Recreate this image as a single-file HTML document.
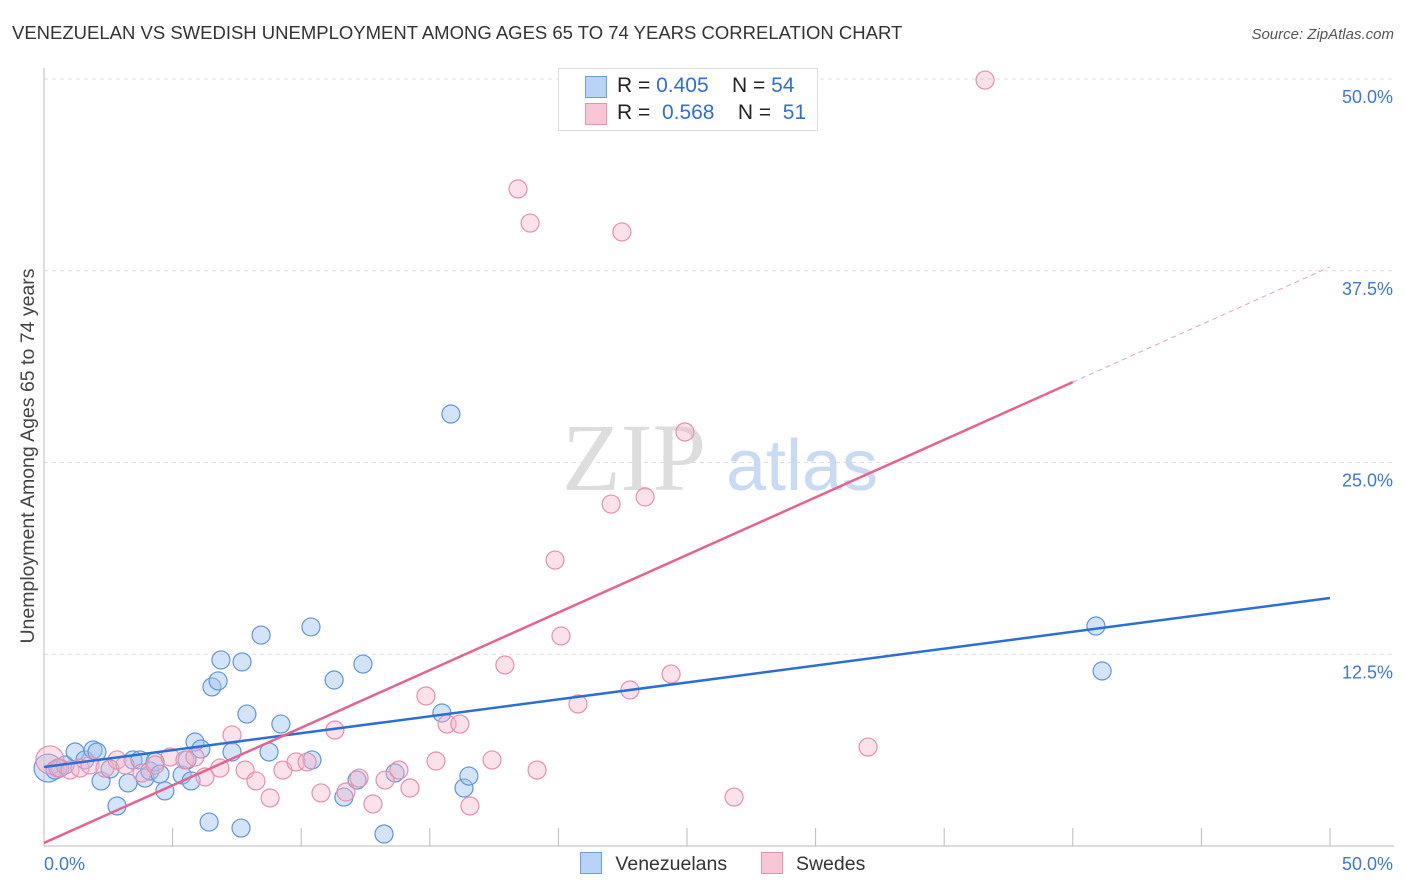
<!DOCTYPE html>
<html><head><meta charset="utf-8"><style>
body{margin:0;background:#fff;font-family:"Liberation Sans",sans-serif;}
#wrap{position:relative;width:1406px;height:892px;overflow:hidden;}
</style></head><body>
<div id="wrap">
<svg id="svg" width="1406" height="892" xmlns="http://www.w3.org/2000/svg">
<text x="12" y="39" font-size="18.5" fill="#333">VENEZUELAN VS SWEDISH UNEMPLOYMENT AMONG AGES 65 TO 74 YEARS CORRELATION CHART</text>
<text x="1394" y="39" font-size="15" fill="#555" font-style="italic" text-anchor="end">Source: ZipAtlas.com</text>
<text transform="translate(34,456) rotate(-90)" font-size="19.5" fill="#444" text-anchor="middle">Unemployment Among Ages 65 to 74 years</text>
<g>
<text x="634" y="490" font-size="96" fill="#ddd" font-family="Liberation Serif,serif" text-anchor="middle">ZIP</text>
<text x="802" y="490" font-size="72" fill="#c9daf3" text-anchor="middle">atlas</text>
</g>
<g id="grid"></g><g id="marks"></g><g id="lines"></g>
</svg>
<div style="position:absolute;left:558px;top:68px;width:258px;height:61px;border:1px solid #ddd;background:#fff;font-size:21px;color:#222;">
<div style="position:absolute;left:26px;top:7px;width:20px;height:20px;background:#b8d3f5;border:1px solid #6d9de0;"></div>
<div style="position:absolute;left:58px;top:5px;">R = <span style="color:#2f6fd6">0.405</span>&nbsp;&nbsp;&nbsp; N = <span style="color:#2f6fd6">54</span></div>
<div style="position:absolute;left:26px;top:34px;width:20px;height:20px;background:#f8c6d4;border:1px solid #e592ad;"></div>
<div style="position:absolute;left:58px;top:32px;">R = &nbsp;<span style="color:#2f6fd6">0.568</span>&nbsp;&nbsp;&nbsp; N = &nbsp;<span style="color:#2f6fd6">51</span></div>
</div>
<div style="position:absolute;left:580px;top:852px;font-size:19.5px;color:#333;">
<span style="display:inline-block;width:20px;height:20px;background:#b8d3f5;border:1px solid #6d9de0;vertical-align:-4px"></span>
<span style="margin-left:8px">Venezuelans</span>
<span style="display:inline-block;width:20px;height:20px;background:#f8c6d4;border:1px solid #e592ad;vertical-align:-4px;margin-left:28px"></span>
<span style="margin-left:8px">Swedes</span>
</div>
</div>
<script>
const yTicks=[12.5,25,37.5,50];
const yTickLabels=["12.5%","25.0%","37.5%","50.0%"];
const xTickVals=[5,10,15,20,25,30,35,40,45,50];
const xEndLabels=["0.0%","50.0%"];
const blueX=[0.16,0.43,0.62,0.82,1.21,1.59,1.91,2.06,2.22,2.57,2.84,3.27,3.46,3.73,3.93,4.12,4.32,4.51,4.70,5.37,5.56,5.72,5.87,6.10,6.42,6.53,6.77,6.88,7.31,7.66,7.70,7.89,8.44,8.75,9.21,10.38,10.42,11.28,11.66,12.17,12.40,13.22,13.65,15.47,15.82,16.33,16.52,40.90,41.14];
const blueY=[5.08,4.95,5.08,5.28,6.13,5.61,6.26,6.13,4.24,5.02,2.61,4.11,5.61,5.61,4.43,4.89,5.48,4.69,3.59,4.63,5.61,4.24,6.78,6.32,1.56,10.37,10.76,12.13,6.13,1.17,12.0,8.60,13.75,6.13,7.95,14.28,5.61,10.82,3.19,4.30,11.86,0.78,4.76,8.67,28.16,3.78,4.56,14.34,11.41];
const pinkX=[0.23,0.54,1.01,1.40,1.79,2.37,2.84,3.15,3.81,4.32,4.90,5.48,5.87,6.26,6.84,7.31,7.82,8.24,8.79,9.29,9.80,10.23,10.77,11.31,11.74,12.25,12.79,13.26,13.80,14.23,14.85,15.24,15.67,16.17,16.56,17.42,17.92,18.43,18.90,19.17,19.87,20.10,20.76,22.05,22.47,22.78,23.37,24.38,24.92,26.83,32.04,36.59];
const pinkY=[5.61,5.08,4.95,5.08,5.28,5.08,5.61,5.28,4.76,5.28,5.80,5.61,5.80,4.50,5.08,7.24,4.95,4.24,3.13,4.95,5.48,5.48,3.46,7.56,3.52,4.43,2.74,4.30,4.95,3.78,9.78,5.54,7.95,7.95,2.61,5.61,11.80,42.83,40.61,4.95,18.64,13.69,9.26,22.29,40.03,10.17,22.75,11.21,26.99,3.19,6.45,49.93];
const blueTrend=[5.15,16.17];
const pinkTrend=[0.2,37.75];
const pinkSolidEnd=40;
const X=v=>44+v*25.72, Y=v=>846-v*15.34;
const NS="http://www.w3.org/2000/svg";
function mk(tag,attrs,parent){const e=document.createElementNS(NS,tag);for(const k in attrs)e.setAttribute(k,attrs[k]);parent.appendChild(e);return e;}
const grid=document.getElementById('grid'),marks=document.getElementById('marks'),lines=document.getElementById('lines');
yTicks.forEach((t,i)=>{
 let g=mk('line',{x1:44,x2:1394,y1:Y(t),y2:Y(t),stroke:'#ddd','stroke-dasharray':'4,4'},grid);
 
 
 let l=mk('text',{x:1393,y:Y(t)+24,'font-size':18,fill:'#3b78d8','text-anchor':'end'},grid);l.textContent=yTickLabels[i];
 
 
});
let ax=mk('line',{x1:44,x2:44,y1:68,y2:846,stroke:'#bbb'},grid);


let bx=mk('line',{x1:44,x2:1394,y1:846,y2:846,stroke:'#bbb'},grid);


xTickVals.forEach(t=>{let e=mk('line',{x1:X(t),x2:X(t),y1:828,y2:846,stroke:'#bbb'},grid);
 
 });
let xl0=mk('text',{x:44,y:870,'font-size':18,fill:'#3b78d8'},grid);xl0.textContent=xEndLabels[0];


let xl1=mk('text',{x:1393,y:870,'font-size':18,fill:'#3b78d8','text-anchor':'end'},grid);xl1.textContent=xEndLabels[1];


function pts(xs,ys,fill,stroke,name){xs.forEach((x,i)=>{const r=i===0?14:9;
 let c=mk('circle',{cx:X(x),cy:Y(ys[i]),r:r,fill:fill,stroke:stroke,'stroke-width':1.2},marks);
 
 });}
pts(blueX,blueY,'rgba(160,196,240,0.45)','#5f95dd','venezuelans-point');
pts(pinkX,pinkY,'rgba(245,180,200,0.4)','#e88fab','swedes-point');
let bl=mk('line',{x1:X(0),y1:Y(blueTrend[0]),x2:X(50),y2:Y(blueTrend[1]),stroke:'#2a6fd8','stroke-width':2.5},lines);


const pAt=x=>pinkTrend[0]+(pinkTrend[1]-pinkTrend[0])*x/50;
let pl=mk('line',{x1:X(0),y1:Y(pAt(0)),x2:X(pinkSolidEnd),y2:Y(pAt(pinkSolidEnd)),stroke:'#e8628e','stroke-width':2.5},lines);


let pd=mk('line',{x1:X(pinkSolidEnd),y1:Y(pAt(pinkSolidEnd)),x2:X(50),y2:Y(pAt(50)),stroke:'#e8a0b8','stroke-width':1,'stroke-dasharray':'5,4'},lines);


</script>
</body></html>
